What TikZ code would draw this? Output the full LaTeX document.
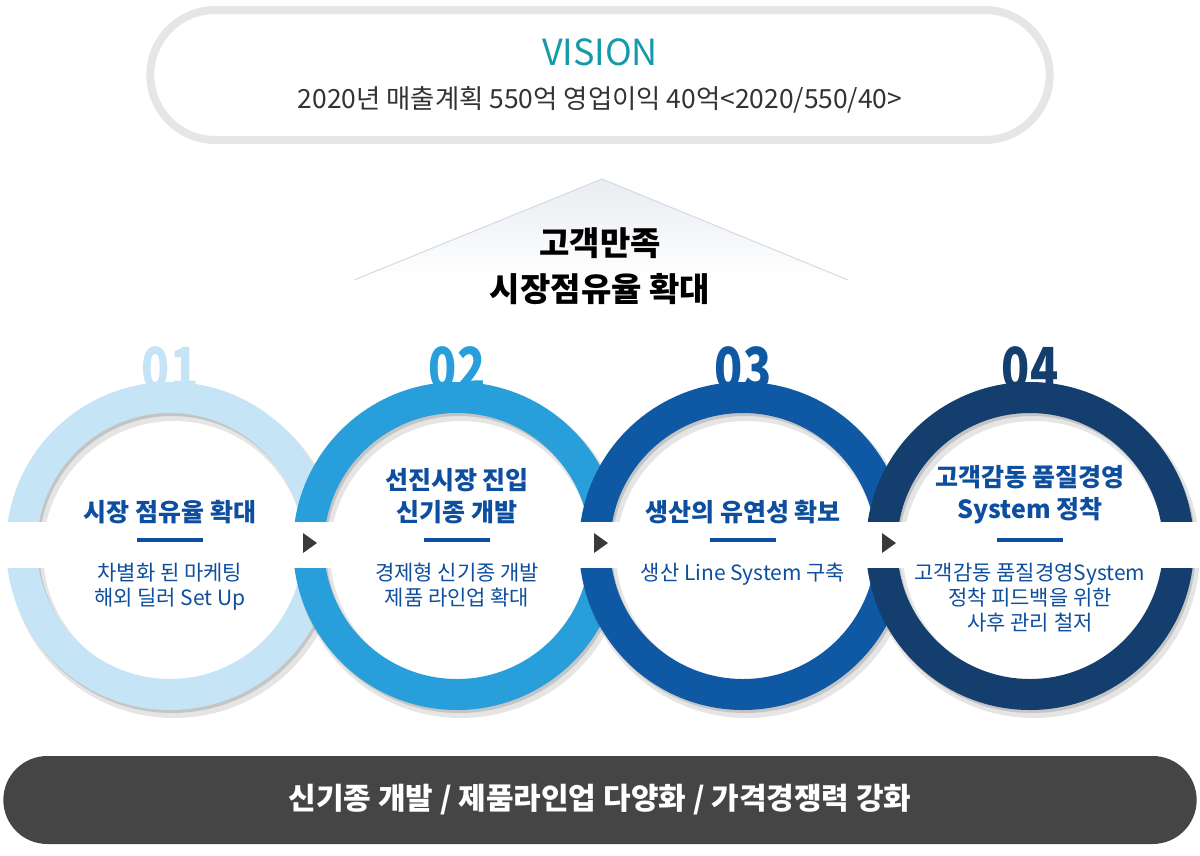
\documentclass[tikz,border=0pt]{standalone}
\usepackage{fontspec}
\setmainfont{Noto Sans CJK KR}
\newfontfamily\numfont[FakeStretch=0.8]{Noto Sans CJK KR}
\usetikzlibrary{positioning,shapes.misc}

\definecolor{ringA}{HTML}{C5E4F6}
\definecolor{ringB}{HTML}{289FDA}
\definecolor{ringC}{HTML}{0E58A4}
\definecolor{ringD}{HTML}{143E6D}
\definecolor{txtblue}{HTML}{0D4E9E}
\definecolor{visteal}{HTML}{159AA8}
\definecolor{frame}{HTML}{E6E6E6}
\definecolor{bar}{HTML}{454545}
\definecolor{pyr}{HTML}{E9ECF1}
\definecolor{pyredge}{HTML}{D3DAE5}
\definecolor{arrowgray}{HTML}{3A3A3A}

\begin{document}
\begin{tikzpicture}[x=1pt, y=1pt,
  ringtitle/.style = {text=txtblue, font=\fontsize{25}{32}\selectfont\bfseries, align=center, inner sep=0pt},
  ringnote/.style = {text=txtblue, font=\fontsize{21}{25}\selectfont, align=center, inner sep=0pt},
  ringnum/.style = {font=\numfont\fontsize{58}{58}\selectfont\bfseries, inner sep=0pt, anchor=base},
  dashbar/.style = {fill=txtblue, minimum width=66pt, minimum height=4pt, inner sep=0pt},
  softshade/.style = {black, opacity=0.10, even odd rule},
  hardshade/.style = {black, opacity=0.14, even odd rule}]
\useasboundingbox (0,0) rectangle (1200,-855);

% vision
\node[rounded rectangle, draw=frame, line width=8pt, fill=white, minimum width=906pt, minimum height=130pt] (vbox) at (600,-75) {};
\node[text=visteal, font=\fontsize{36}{36}\selectfont] (vtitle) at ([yshift=23pt]vbox.center) {VISION};
\node[text=black!80, font=\fontsize{26.4}{26.4}\selectfont] (vplan) at ([yshift=-25pt]vbox.center) {2020년 매출계획 550억 영업이익 40억<2020/550/40>};

% pyramid
\shade[top color=pyr, bottom color=white] (602,-179) -- (848,-280) -- (354,-280) -- cycle;
\draw[pyredge, line width=1pt] (354,-280) -- (602,-179) -- (848,-280);
\node[font=\fontsize{33}{46}\selectfont\bfseries, align=center] (goal) at (600,-266) {고객만족\\시장점유율 확대};

% ring centres
\coordinate (c1) at (170,-546);
\coordinate (c2) at (457,-546);
\coordinate (c3) at (743,-546);
\coordinate (c4) at (1030,-546);

% numbers (behind the rings)
\node[ringnum, text=ringA] (n1) at (170,-389) {01};
\node[ringnum, text=ringB] (n2) at (457,-389) {02};
\node[ringnum, text=ringC] (n3) at (743,-389) {03};
\node[ringnum, text=ringD] (n4) at (1030,-389) {04};

% ring 1
\fill[white] (c1) circle[radius=133pt];
\fill[softshade] ([shift={(4,-6)}]c1) circle[radius=166pt] ([shift={(4,-6)}]c1) circle[radius=131pt];
\fill[hardshade] ([shift={(2,-3)}]c1) circle[radius=164pt] ([shift={(2,-3)}]c1) circle[radius=133pt];
\fill[ringA, even odd rule] (c1) circle[radius=164pt] (c1) circle[radius=133pt];
% ring 2
\fill[white] (c2) circle[radius=133pt];
\fill[softshade] ([shift={(4,-6)}]c2) circle[radius=166pt] ([shift={(4,-6)}]c2) circle[radius=131pt];
\fill[hardshade] ([shift={(2,-3)}]c2) circle[radius=164pt] ([shift={(2,-3)}]c2) circle[radius=133pt];
\fill[ringB, even odd rule] (c2) circle[radius=164pt] (c2) circle[radius=133pt];
% ring 3
\fill[white] (c3) circle[radius=133pt];
\fill[softshade] ([shift={(4,-6)}]c3) circle[radius=166pt] ([shift={(4,-6)}]c3) circle[radius=131pt];
\fill[hardshade] ([shift={(2,-3)}]c3) circle[radius=164pt] ([shift={(2,-3)}]c3) circle[radius=133pt];
\fill[ringC, even odd rule] (c3) circle[radius=164pt] (c3) circle[radius=133pt];
% ring 4
\fill[white] (c4) circle[radius=133pt];
\fill[softshade] ([shift={(4,-6)}]c4) circle[radius=166pt] ([shift={(4,-6)}]c4) circle[radius=131pt];
\fill[hardshade] ([shift={(2,-3)}]c4) circle[radius=164pt] ([shift={(2,-3)}]c4) circle[radius=133pt];
\fill[ringD, even odd rule] (c4) circle[radius=164pt] (c4) circle[radius=133pt];

% cut through the rings
\fill[white] (0,-522) rectangle (1200,-568);

% ring texts
\node[ringtitle, above=22pt of c1] (t1) {시장 점유율 확대};
\node[dashbar, above=4pt of c1] (d1) {};
\node[ringnote, below=17pt of c1] (s1) {차별화 된 마케팅\\해외 딜러 Set Up};

\node[ringtitle, above=22pt of c2] (t2) {선진시장 진입\\신기종 개발};
\node[dashbar, above=4pt of c2] (d2) {};
\node[ringnote, below=17pt of c2] (s2) {경제형 신기종 개발\\제품 라인업 확대};

\node[ringtitle, above=22pt of c3] (t3) {생산의 유연성 확보};
\node[dashbar, above=4pt of c3] (d3) {};
\node[ringnote, below=17pt of c3] (s3) {생산 Line System 구축};

\node[ringtitle, above=22pt of c4] (t4) {고객감동 품질경영\\System 정착};
\node[dashbar, above=4pt of c4] (d4) {};
\node[ringnote, below=17pt of c4] (s4) {고객감동 품질경영System\\정착 피드백을 위한\\사후 관리 철저};

% arrows
\fill[arrowgray] (303,-533) -- (317,-543) -- (303,-553) -- cycle;
\fill[arrowgray] (594,-533) -- (608,-543) -- (594,-553) -- cycle;
\fill[arrowgray] (882,-533) -- (896,-543) -- (882,-553) -- cycle;

% slogan
\node[rounded rectangle, fill=bar, minimum width=1200pt, minimum height=88pt, text=white, font=\fontsize{30}{30}\selectfont\bfseries] (slogan) at (600,-800) {신기종 개발 / 제품라인업 다양화 / 가격경쟁력 강화};
\end{tikzpicture}
\end{document}
